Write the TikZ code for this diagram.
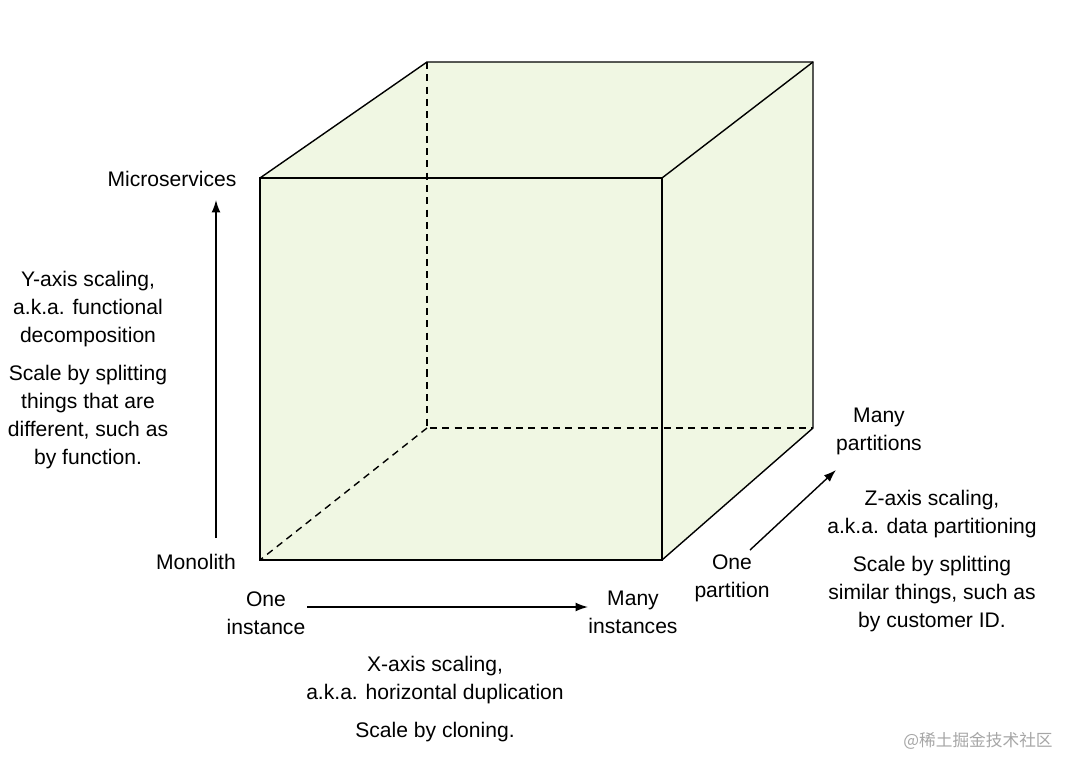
\documentclass[tikz,border=0pt]{standalone}
\usepackage{fontspec}
\setmainfont{Liberation Sans}
\newfontfamily\cjk{Noto Sans CJK SC}
\usetikzlibrary{arrows.meta}
\usetikzlibrary{positioning}
\definecolor{cubefill}{HTML}{F0F7E3}
\tikzset{
  lbl/.style={align=center,font=\fontsize{12}{15.9}\selectfont,inner sep=0pt},
  edge/.style={line width=0.8pt},
  hidden/.style={line width=0.8pt,dashed,dash pattern=on 4pt off 3pt},
  axis/.style={line width=0.8pt,-{Latex[length=7pt,width=5pt]}}
}
\begin{document}
\begin{tikzpicture}[x=0.02cm,y=-0.02cm]
  \useasboundingbox (0,0) rectangle (1065,758);
  % cube corners
  \coordinate (ftl) at (260,178);
  \coordinate (ftr) at (662,178);
  \coordinate (fbr) at (662,560);
  \coordinate (fbl) at (260,560);
  \coordinate (btl) at (427,62);
  \coordinate (btr) at (813,62);
  \coordinate (bbr) at (813,428);
  \coordinate (bbl) at (427,428);
  \fill[cubefill] (fbl) -- (ftl) -- (btl) -- (btr) -- (bbr) -- (fbr) -- cycle;
  \draw[hidden] (btl) -- (bbl) -- (bbr);
  \draw[hidden] (bbl) -- (fbl);
  \draw[edge] (ftl) rectangle (fbr);
  \draw[edge] (ftl) -- (btl) -- (btr) -- (bbr) -- (fbr);
  \draw[edge] (ftr) -- (btr);
  % axes
  \coordinate (y0) at (216,538);
  \coordinate (y1) at (216,200);
  \coordinate (x0) at (307,607);
  \coordinate (x1) at (588,607);
  \coordinate (z0) at (750,550);
  \coordinate (z1) at (836,470);
  \draw[axis] (y0) -- (y1);
  \draw[axis] (x0) -- (x1);
  \draw[axis] (z0) -- (z1);
  % labels
  \node[lbl] (micro) at (172,179) {Microservices};
  \node[lbl] (mono) at (196,562) {Monolith};
  \node[lbl,anchor=north] (ytext) at (88,271) {Y-axis scaling,\\a.k.a. functional\\decomposition\\[5.7pt]Scale by splitting\\things that are\\different, such as\\by function.};
  \node[lbl,anchor=north] (oneinst) at (266,591) {One\\instance};
  \node[lbl,anchor=north] (manyinst) at (633,591) {Many\\instances};
  \node[lbl,anchor=north] (xtext) at (435,656) {X-axis scaling,\\a.k.a. horizontal duplication\\[5.7pt]Scale by cloning.};
  \node[lbl,anchor=north] (onepart) at (732,554) {One\\partition};
  \node[lbl,anchor=north] (manypart) at (879,408) {Many\\partitions};
  \node[lbl,anchor=north] (ztext) at (932,490) {Z-axis scaling,\\a.k.a. data partitioning\\[5.7pt]Scale by splitting\\similar things, such as\\by customer ID.};
  \node[lbl,text=gray!70,font=\cjk\fontsize{9.5}{10}\selectfont] (mark) at (978,741) {@稀土掘金技术社区};
\end{tikzpicture}
\end{document}
